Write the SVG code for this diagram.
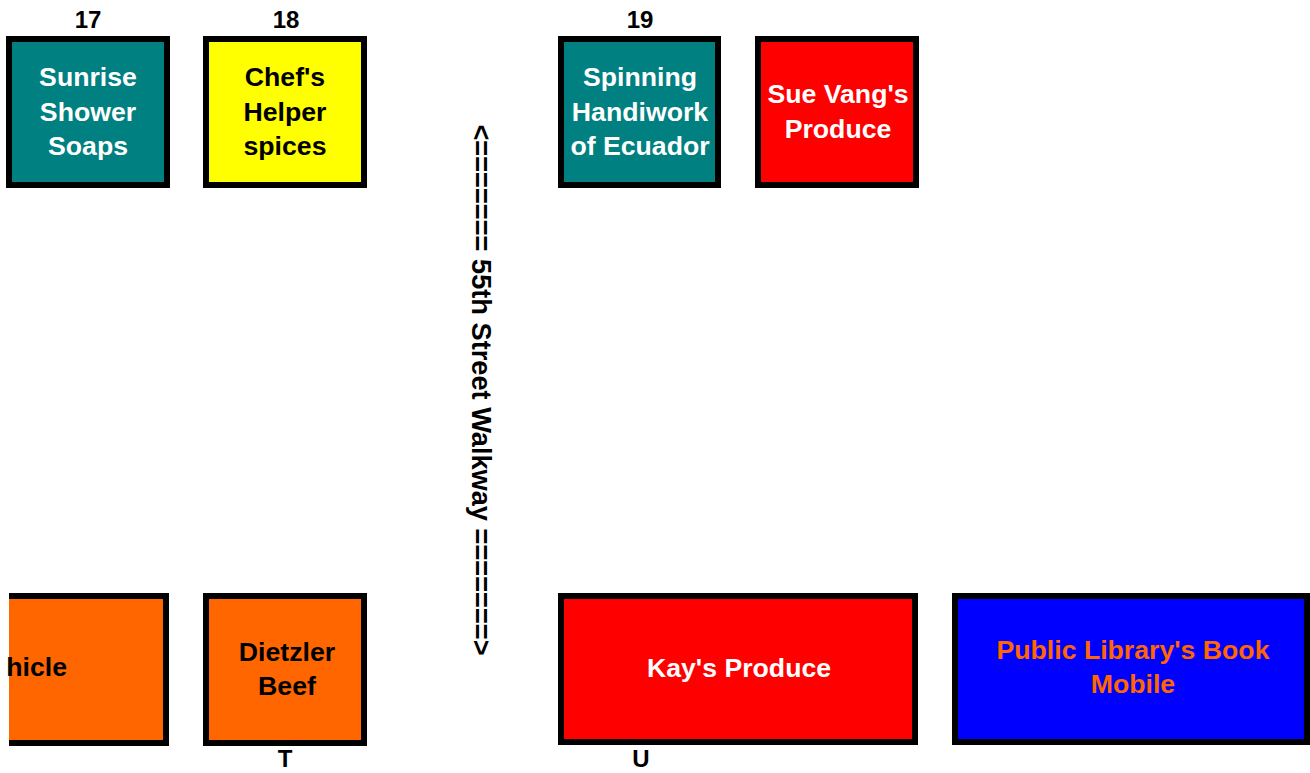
<svg xmlns="http://www.w3.org/2000/svg" width="1310" height="773" viewBox="0 0 1310 773">
<style>
.box{stroke:#000;stroke-width:6}
.t{font-family:"Liberation Sans",Arial,sans-serif;font-weight:bold;font-size:26.67px;text-anchor:middle}
.lbl{font-family:"Liberation Sans",Arial,sans-serif;font-weight:bold;font-size:24px;text-anchor:middle;fill:#000}
.w{fill:#fff}
.k{fill:#000}
</style>
<defs>
<clipPath id="clipL"><rect x="9" y="0" width="300" height="773"/></clipPath>
</defs>
<rect width="1310" height="773" fill="#fff"/>
<g id="labels">
<text class="lbl" x="88" y="28">17</text>
<text class="lbl" x="286" y="28">18</text>
<text class="lbl" x="640" y="28">19</text>
<text class="lbl" x="285" y="767">T</text>
<text class="lbl" x="641" y="767">U</text>
</g>
<g id="n17">
<rect class="box" x="9" y="39" width="158" height="146" fill="#008080"/>
<text class="t w" x="88" y="86">Sunrise</text>
<text class="t w" x="88" y="121">Shower</text>
<text class="t w" x="88" y="155">Soaps</text>
</g>
<g id="n18">
<rect class="box" x="206" y="39" width="158" height="146" fill="#ffff00"/>
<text class="t k" x="285" y="86">Chef's</text>
<text class="t k" x="285" y="121">Helper</text>
<text class="t k" x="285" y="155">spices</text>
</g>
<g id="n19">
<rect class="box" x="561" y="39" width="157" height="146" fill="#008080"/>
<text class="t w" x="640" y="86">Spinning</text>
<text class="t w" x="640" y="121">Handiwork</text>
<text class="t w" x="640" y="155">of Ecuador</text>
</g>
<g id="sueVang">
<rect class="box" x="758" y="39" width="158" height="146" fill="#ff0000"/>
<text class="t w" x="838" y="103">Sue Vang's</text>
<text class="t w" x="838" y="138">Produce</text>
</g>
<g id="walkway">
<text class="t k" style="font-size:27.2px" transform="translate(472,390) rotate(90)" x="0" y="0">&lt;======= 55th Street Walkway =======&gt;</text>
</g>
<g id="vehicle">
<g clip-path="url(#clipL)">
<rect class="box" x="-150" y="596" width="316" height="147" fill="#ff6600"/>
</g>
<text class="t k" style="text-anchor:end" x="67" y="676">hicle</text>
</g>
<g id="dietzler">
<rect class="box" x="206" y="596" width="158" height="147" fill="#ff6600"/>
<text class="t k" x="287" y="661">Dietzler</text>
<text class="t k" x="287" y="695">Beef</text>
</g>
<g id="kays">
<rect class="box" x="561" y="596" width="354" height="146" fill="#ff0000"/>
<text class="t w" x="739" y="677">Kay's Produce</text>
</g>
<g id="library">
<rect class="box" x="955" y="596" width="352" height="146" fill="#0000ff"/>
<text class="t" fill="#ff6600" x="1133" y="659">Public Library's Book</text>
<text class="t" fill="#ff6600" x="1133" y="693">Mobile</text>
</g>
<g id="connectors"></g>
</svg>
